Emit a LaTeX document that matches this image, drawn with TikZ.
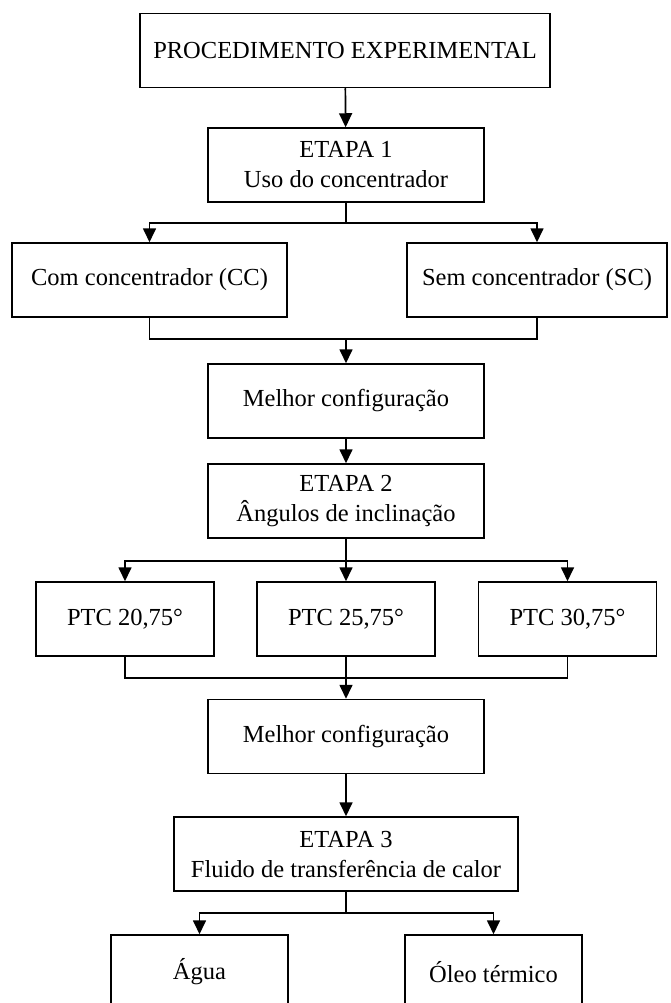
\documentclass[tikz,border=0pt]{standalone}
\usepackage{fontspec}
\setmainfont{Liberation Serif}
\usetikzlibrary{arrows.meta}

\tikzset{
  etapa/.style={draw, line width=1.5pt, minimum height=74pt, align=center,
    inner sep=0pt, font=\fontsize{24.5}{30}\selectfont},
  arr/.style={line width=1.7pt, -{Triangle[width=13pt,length=14pt]}},
  lig/.style={line width=1.7pt}
}

\begin{document}
\begin{tikzpicture}[x=1pt, y=-1pt]
    \clip (0,0) rectangle (670,1003);
    \def\cx{346}
    % Boxes
    \node[etapa, minimum width=410pt] (proc) at (345,50.5) {PROCEDIMENTO EXPERIMENTAL};
    \node[etapa, minimum width=276pt] (etapa1) at (\cx,165) {ETAPA 1\\Uso do concentrador};
    \node[etapa, minimum width=275pt] (cc) at (149.5,280) {Com concentrador (CC)};
    \node[etapa, minimum width=260pt] (sc) at (537,280) {Sem concentrador (SC)};
    \node[etapa, minimum width=276pt] (melhor1) at (\cx,401) {Melhor configuração};
    \node[etapa, minimum width=276pt] (etapa2) at (\cx,501) {ETAPA 2\\Ângulos de inclinação};
    \node[etapa, minimum width=178pt] (ptc1) at (125,619) {PTC 20,75°};
    \node[etapa, minimum width=178pt] (ptc2) at (\cx,619) {PTC 25,75°};
    \node[etapa, minimum width=178pt] (ptc3) at (567.5,619) {PTC 30,75°};
    \node[etapa, minimum width=276pt] (melhor2) at (\cx,736.5) {Melhor configuração};
    \node[etapa, minimum width=344pt] (etapa3) at (\cx,854) {ETAPA 3\\Fluido de transferência de calor};
    \node[etapa, minimum width=177pt] (agua) at (199.5,972) {Água};
    \node[etapa, minimum width=177pt] (oleo) at (493.5,972) {Óleo térmico};
    % Branch points
    \coordinate (b1) at (\cx,223);
    \coordinate (j1) at (\cx,339);
    \coordinate (b2) at (\cx,561);
    \coordinate (j2) at (\cx,678);
    \coordinate (b3) at (\cx,913);
    % Connectors
    \draw[arr] (proc) -- (etapa1);
    \draw[arr] (etapa1.south) -- (b1) -| (cc.north);
    \draw[arr] (b1) -| (sc.north);
    \draw[lig] (cc.south) |- (j1) -| (sc.south);
    \draw[arr] (j1) -- (melhor1.north);
    \draw[arr] (melhor1) -- (etapa2);
    \draw[arr] (etapa2.south) -- (b2) -| (ptc1.north);
    \draw[arr] (b2) -- (ptc2.north);
    \draw[arr] (b2) -| (ptc3.north);
    \draw[lig] (ptc1.south) |- (j2) -| (ptc3.south);
    \draw[lig] (ptc2.south) -- (j2);
    \draw[arr] (j2) -- (melhor2.north);
    \draw[arr] (melhor2) -- (etapa3);
    \draw[arr] (etapa3.south) -- (b3) -| (agua.north);
    \draw[arr] (b3) -| (oleo.north);
\end{tikzpicture}
\end{document}
